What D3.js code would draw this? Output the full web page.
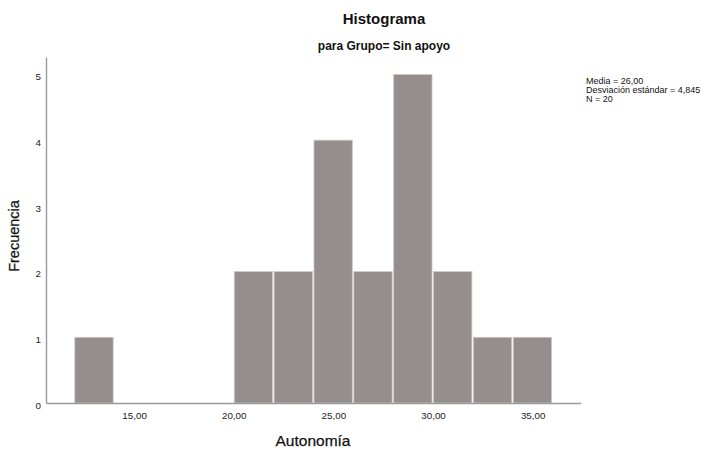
<!DOCTYPE html>
<html>
<head>
<meta charset="utf-8">
<script src="https://cdn.jsdelivr.net/npm/d3@7"></script>
<style>
  html, body { margin: 0; padding: 0; background: #fff; }
  svg { display: block; font-family: Arial, "Liberation Sans", sans-serif; }
</style>
</head>
<body>
<svg id="chart" width="716" height="450"></svg>
<script>
// Histogram of Autonomía, bins of width 2
const binStarts = [12, 14, 16, 18, 20, 22, 24, 26, 28, 30, 32, 34];
const binWidth = 2;
const counts = [1, 0, 0, 0, 2, 2, 4, 2, 5, 2, 1, 1];
const xTicks = [15, 20, 25, 30, 35];
const yTicks = [0, 1, 2, 3, 4, 5];
const statsLines = ["Media = 26,00", "Desviación estándar = 4,845", "N = 20"];

const svg = d3.select("#chart");

const x = d3.scaleLinear().domain([10.58, 37.41]).range([46, 580.7]);
const y = d3.scaleLinear().domain([0, 5.266]).range([403, 57]);

const fmtX = v => d3.format(".2f")(v).replace(".", ",");

// Bars
svg.append("g").selectAll("rect")
  .data(binStarts.map((s, i) => ({ x0: s, x1: s + binWidth, n: counts[i] })).filter(d => d.n > 0))
  .join("rect")
  .attr("x", d => x(d.x0) + 0.5)
  .attr("y", d => y(d.n))
  .attr("width", d => x(d.x1) - x(d.x0) - 1.5)
  .attr("height", d => y(0) - y(d.n))
  .attr("fill", "#948f8d")
  .attr("stroke", "#cdc9c7")
  .attr("stroke-width", 0.8);

// Axes
const xAxis = svg.append("g").attr("transform", `translate(0,${y(0)})`)
  .call(d3.axisBottom(x).tickValues(xTicks).tickFormat(fmtX).tickSize(0).tickPadding(9));
const yAxis = svg.append("g").attr("transform", `translate(${x.range()[0]},0)`)
  .call(d3.axisLeft(y).tickValues(yTicks).tickFormat(d3.format("d")).tickSize(0).tickPadding(5));

[xAxis, yAxis].forEach(g => {
  g.select(".domain").attr("stroke", "#9a9a9a").attr("stroke-width", 1.4);
  g.selectAll("text").attr("font-family", "Arial, 'Liberation Sans', sans-serif")
    .attr("font-size", 9.8).attr("fill", "#222");
});
yAxis.selectAll("text").attr("dy", "0.55em");

// Titles
svg.append("text").attr("x", 384).attr("y", 24).attr("text-anchor", "middle")
  .attr("font-size", 15).attr("font-weight", "bold").attr("fill", "#111").text("Histograma");
svg.append("text").attr("x", 384).attr("y", 50).attr("text-anchor", "middle")
  .attr("font-size", 12).attr("font-weight", "bold").attr("fill", "#111").text("para Grupo= Sin apoyo");

// Axis titles
svg.append("text").attr("x", 313).attr("y", 446).attr("text-anchor", "middle")
  .attr("font-size", 15.5).attr("fill", "#111").attr("stroke", "#111").attr("stroke-width", 0.25)
  .text("Autonomía");
svg.append("text").attr("transform", "translate(19,236) rotate(-90)").attr("text-anchor", "middle")
  .attr("font-size", 14.5).attr("fill", "#111").attr("stroke", "#111").attr("stroke-width", 0.25)
  .text("Frecuencia");

// Summary statistics
svg.append("g").selectAll("text").data(statsLines).join("text")
  .attr("x", 586).attr("y", (d, i) => 84 + i * 8.8)
  .attr("font-size", 9).attr("fill", "#111").text(d => d);
</script>
</body>
</html>
